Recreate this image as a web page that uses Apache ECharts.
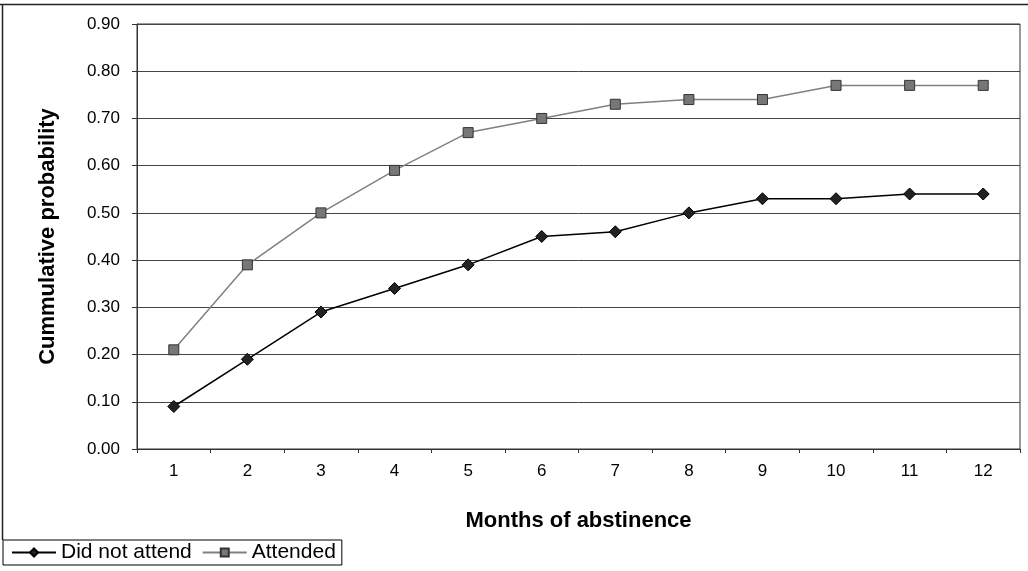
<!DOCTYPE html>
<html>
<head>
<meta charset="utf-8">
<script src="https://cdn.jsdelivr.net/npm/echarts@6/dist/echarts.min.js"></script>
<style>
  html, body { margin: 0; padding: 0; background: #fff; }
  #chart { width: 1028px; height: 571px; }
</style>
</head>
<body>
<div id="chart"></div>
<script>
// Months since treatment start
const months = ['1', '2', '3', '4', '5', '6', '7', '8', '9', '10', '11', '12'];
// Cumulative probability of abstinence per group
const didNotAttend = [0.09, 0.19, 0.29, 0.34, 0.39, 0.45, 0.46, 0.50, 0.53, 0.53, 0.54, 0.54];
const attended = [0.21, 0.39, 0.50, 0.59, 0.67, 0.70, 0.73, 0.74, 0.74, 0.77, 0.77, 0.77];
// Value axis range and step
const yMin = 0, yMax = 0.9, yStep = 0.1;

const FONT = '"Liberation Sans", Arial, sans-serif';

const chart = echarts.init(document.getElementById('chart'), null, { renderer: 'canvas' });

chart.setOption({
  backgroundColor: '#fff',
  animation: false,
  textStyle: { fontFamily: FONT, color: '#000' },
  grid: {
    left: 137, right: 8, top: 24, bottom: 122,
    show: true, borderColor: '#333', borderWidth: 1, backgroundColor: 'transparent'
  },
  legend: {
    left: 3, top: 540,
    orient: 'horizontal',
    itemWidth: 44, itemHeight: 10, itemGap: 10,
    padding: [2, 6, 2, 8],
    borderColor: '#000', borderWidth: 1,
    textStyle: { fontFamily: FONT, fontSize: 21, color: '#000' },
    data: ['Did not attend', 'Attended']
  },
  xAxis: {
    type: 'category',
    data: months,
    boundaryGap: true,
    name: 'Months of abstinence',
    nameLocation: 'middle',
    nameGap: 61,
    nameTextStyle: { fontFamily: FONT, fontSize: 22, fontWeight: 'bold', color: '#000' },
    axisLine: { lineStyle: { color: '#333', width: 1 } },
    axisTick: { show: true, length: 4, lineStyle: { color: '#333' } },
    axisLabel: { fontFamily: FONT, fontSize: 17, color: '#000', margin: 14 },
    splitLine: { show: false }
  },
  yAxis: {
    type: 'value',
    min: yMin, max: yMax, interval: yStep,
    name: 'Cummulative probability',
    nameLocation: 'middle',
    nameGap: 78,
    nameTextStyle: { fontFamily: FONT, fontSize: 22, fontWeight: 'bold', color: '#000' },
    axisLine: { show: true, lineStyle: { color: '#333', width: 1 } },
    axisTick: { show: true, length: 5, lineStyle: { color: '#333' } },
    axisLabel: {
      fontFamily: FONT, fontSize: 17, color: '#000', margin: 17,
      formatter: v => v.toFixed(2)
    },
    splitLine: { show: true, lineStyle: { color: '#444', width: 1 } }
  },
  graphic: [
    { type: 'line', shape: { x1: 0, y1: 4.5, x2: 1028, y2: 4.5 }, style: { stroke: '#222', lineWidth: 1.5 } },
    { type: 'line', shape: { x1: 2.5, y1: 4, x2: 2.5, y2: 540 }, style: { stroke: '#222', lineWidth: 1.5 } }
  ],
  series: [
    {
      name: 'Did not attend',
      type: 'line',
      data: didNotAttend,
      symbol: 'diamond',
      symbolSize: 12,
      lineStyle: { color: '#000', width: 1.5 },
      itemStyle: { color: '#222', borderColor: '#000', borderWidth: 1 },
      z: 3
    },
    {
      name: 'Attended',
      type: 'line',
      data: attended,
      symbol: 'rect',
      symbolSize: 10,
      lineStyle: { color: '#808080', width: 1.5 },
      itemStyle: { color: '#777', borderColor: '#333', borderWidth: 1 },
      z: 2
    }
  ]
});
</script>
</body>
</html>
